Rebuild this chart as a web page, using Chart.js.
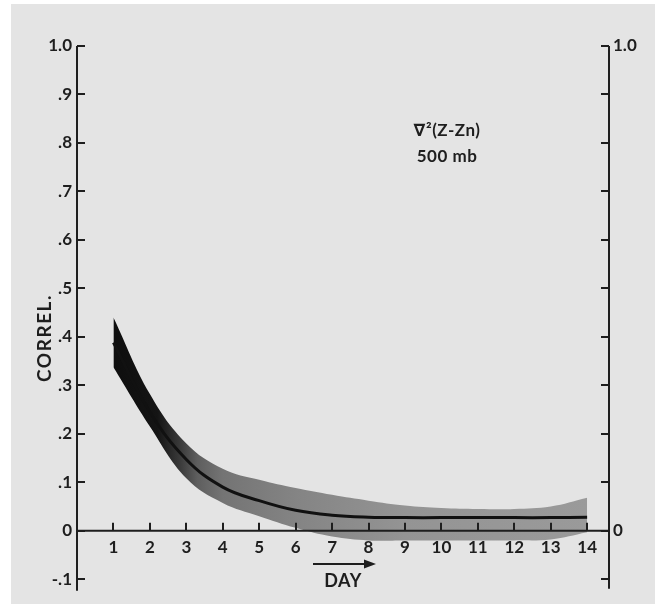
<!DOCTYPE html>
<html>
<head>
<meta charset="utf-8">
<script src="https://cdn.jsdelivr.net/npm/chart.js@4/dist/chart.umd.min.js"></script>
<style>
  html, body { margin: 0; padding: 0; background: #fff; }
  canvas { display: block; }
</style>
</head>
<body>
<canvas id="correlCanvas" width="655" height="606"></canvas>
<script>
// values (correlation vs. forecast day)
const days = [1, 2, 3, 4, 5, 6, 7, 8, 9, 10, 11, 12, 13, 14];
const correlMean = [0.388, 0.245, 0.147, 0.09, 0.062, 0.042, 0.032, 0.028, 0.027, 0.027, 0.027, 0.027, 0.027, 0.028];
const correlHigh = [0.44, 0.282, 0.18, 0.128, 0.105, 0.088, 0.074, 0.062, 0.052, 0.047, 0.045, 0.045, 0.05, 0.068];
const correlLow = [0.337, 0.215, 0.108, 0.057, 0.03, 0.006, -0.012, -0.02, -0.02, -0.02, -0.02, -0.02, -0.018, -0.003];

const yTickValues = [-0.1, 0, 0.1, 0.2, 0.3, 0.4, 0.5, 0.6, 0.7, 0.8, 0.9, 1.0];
const yTickLabels = ["-.1", "0", ".1", ".2", ".3", ".4", ".5", ".6", ".7", ".8", ".9", "1.0"];
const rightTickLabels = ["", "0", "", "", "", "", "", "", "", "", "", "1.0"];

const inkColor = "#1e1e1e";
const fontFamily = "Lato, 'DejaVu Sans', sans-serif";
const tickFont = { family: fontFamily, size: 17, weight: "bold" };

// band gets darker toward day 1, as in the print
const bandFill = (context) => {
  const chart = context.chart;
  if (!chart.chartArea) return "#888";
  const xs = chart.scales.x;
  const x0 = xs.getPixelForValue(0);
  const x1 = xs.getPixelForValue(14.6);
  const g = chart.ctx.createLinearGradient(x0, 0, x1, 0);
  const stops = [[1, "#0e0e0e"], [2.2, "#141414"], [2.8, "#383838"], [3.3, "#5e5e5e"], [4, "#747474"], [6, "#848484"], [9, "#949494"], [14, "#9a9a9a"]];
  stops.forEach(([d, col]) => g.addColorStop(d / 14.6, col));
  return g;
};

const paperAxes = {
  id: "paperAxes",
  beforeDraw(chart) {
    const c = chart.ctx;
    c.save();
    c.fillStyle = "#ffffff";
    c.fillRect(0, 0, chart.width, chart.height);
    c.fillStyle = "#e4e4e4";
    c.fillRect(11, 4, chart.width - 11, chart.height - 6);
    c.restore();
  },
  afterDatasetsDraw(chart) {
    const c = chart.ctx;
    const { x, y } = chart.scales;
    const area = chart.chartArea;
    const zeroY = y.getPixelForValue(0);
    c.save();
    c.strokeStyle = inkColor;
    c.lineWidth = 2;
    c.lineCap = "butt";
    c.beginPath();
    // left axis + inward ticks
    c.moveTo(area.left, area.top);
    c.lineTo(area.left, area.bottom);
    yTickValues.forEach((v) => {
      const py = Math.round(y.getPixelForValue(v));
      c.moveTo(area.left, py);
      c.lineTo(area.left + 8, py);
    });
    // right axis + inward ticks
    c.moveTo(area.right, area.top);
    c.lineTo(area.right, area.bottom - 2);
    yTickValues.forEach((v) => {
      const py = Math.round(y.getPixelForValue(v));
      c.moveTo(area.right, py);
      c.lineTo(area.right - 8, py);
    });
    // day axis + upward ticks
    c.moveTo(area.left, zeroY);
    c.lineTo(area.right, zeroY);
    days.forEach((d) => {
      const px = Math.round(x.getPixelForValue(d));
      c.moveTo(px, zeroY);
      c.lineTo(px, zeroY - 8);
    });
    c.stroke();
    c.restore();
  },
  afterDraw(chart) {
    const c = chart.ctx;
    c.save();
    c.fillStyle = inkColor;
    c.textAlign = "center";
    c.textBaseline = "middle";

    c.font = "bold 17px " + fontFamily;
    c.letterSpacing = "0.5px";
    c.fillText("\u2207\u00b2(Z-Zn)", 447, 131);
    c.fillText("500 mb", 447, 157);

    c.font = "bold 18px " + fontFamily;
    c.letterSpacing = "0.5px";
    c.fillText("DAY", 343, 581);

    c.save();
    c.translate(45, 338);
    c.rotate(-Math.PI / 2);
    c.font = "bold 19px " + fontFamily;
    c.letterSpacing = "1.5px";
    c.fillText("CORREL.", 0, 0);
    c.restore();

    // arrow above DAY
    c.strokeStyle = inkColor;
    c.lineWidth = 2;
    c.beginPath();
    c.moveTo(313, 564);
    c.lineTo(368, 564);
    c.stroke();
    c.beginPath();
    c.moveTo(376, 564);
    c.lineTo(364, 559.5);
    c.lineTo(364, 568.5);
    c.closePath();
    c.fill();
    c.restore();
  }
};

const setTicks = (values) => (scale) => {
  scale.ticks = values.map((v) => ({ value: v }));
};

new Chart(document.getElementById("correlCanvas"), {
  type: "line",
  data: {
    labels: days,
    datasets: [
      {
        label: "mean",
        data: days.map((d, i) => ({ x: d, y: correlMean[i] })),
        borderColor: "#111",
        borderWidth: 3,
        pointRadius: 0,
        fill: false,
        tension: 0.4,
        order: 0,
      },
      {
        label: "high",
        data: days.map((d, i) => ({ x: d, y: correlHigh[i] })),
        borderWidth: 0,
        borderColor: "rgba(0,0,0,0)",
        pointRadius: 0,
        fill: "+1",
        backgroundColor: bandFill,
        tension: 0.4,
        order: 1,
      },
      {
        label: "low",
        data: days.map((d, i) => ({ x: d, y: correlLow[i] })),
        borderWidth: 0,
        borderColor: "rgba(0,0,0,0)",
        pointRadius: 0,
        fill: false,
        tension: 0.4,
        order: 2,
      },
    ],
  },
  options: {
    responsive: false,
    animation: false,
    devicePixelRatio: 1,
    layout: { padding: { top: 46, bottom: 11, left: 0, right: 0 } },
    plugins: {
      legend: { display: false },
      tooltip: { enabled: false },
    },
    scales: {
      x: {
        type: "linear",
        axis: "x",
        position: { y: 0 },
        min: 0,
        max: 14.6,
        afterBuildTicks: setTicks(days),
        grid: { display: false, drawTicks: false },
        border: { display: false },
        ticks: {
          color: inkColor,
          font: tickFont,
          padding: 7,
          autoSkip: false,
          maxRotation: 0,
          callback: (v) => String(v),
        },
      },
      y: {
        type: "linear",
        position: "left",
        min: -0.124,
        max: 1.0,
        afterBuildTicks: setTicks(yTickValues),
        afterFit: (scale) => { scale.width = 77; },
        grid: { display: false, drawTicks: false },
        border: { display: false },
        ticks: {
          color: inkColor,
          font: tickFont,
          padding: 5,
          callback: (v, i) => yTickLabels[i],
        },
      },
      y2: {
        type: "linear",
        position: "right",
        min: -0.124,
        max: 1.0,
        afterBuildTicks: setTicks(yTickValues),
        afterFit: (scale) => { scale.width = 46; },
        grid: { display: false, drawTicks: false },
        border: { display: false },
        ticks: {
          color: inkColor,
          font: tickFont,
          padding: 4,
          callback: (v, i) => rightTickLabels[i],
        },
      },
    },
  },
  plugins: [paperAxes],
});
</script>
</body>
</html>
